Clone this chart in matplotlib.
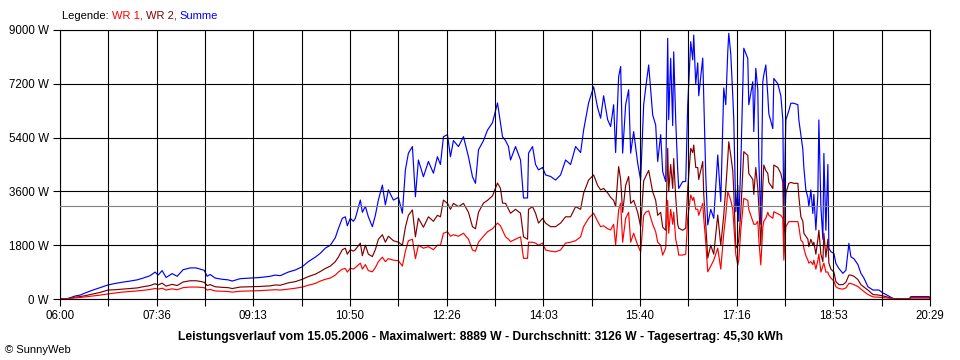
import matplotlib
matplotlib.use("Agg")
import matplotlib.pyplot as plt
import numpy as np

plt.rcParams['font.family'] = ['Liberation Sans', 'DejaVu Sans']

# Zeit in Minuten ab 06:00
minuten = [0, 6, 10, 15, 20, 25, 33, 40, 48, 55, 62, 70, 77, 83, 90, 95, 98, 102, 106, 112,
           117, 123, 130, 136, 140, 144, 147, 150, 155, 162, 168, 172, 180, 190, 200, 210, 215, 220, 228, 235,
           242, 248, 255, 260, 265, 270, 275, 278, 282, 285, 287, 290, 293, 295, 300, 302, 305, 308, 312, 315,
           318, 322, 325, 328, 333, 338, 342, 345, 348, 352, 355, 358, 363, 368, 373, 377, 380, 383, 387, 390,
           393, 398, 403, 408, 412, 415, 418, 423, 427, 432, 437, 440, 442, 445, 448, 450, 455, 460, 463, 467,
           468, 472, 475, 478, 482, 485, 490, 495, 500, 505, 510, 515, 520, 523, 528, 533, 537, 540, 543, 547,
           550, 553, 555, 558, 560, 562, 565, 568, 570, 573, 577, 580, 583, 585, 588, 592, 595, 597, 600, 602,
           605, 607, 608, 610, 612, 613, 615, 617, 618, 622, 625, 627, 630, 632, 633, 635, 637, 638, 642, 643,
           645, 647, 650, 653, 657, 660, 663, 665, 667, 668, 670, 672, 673, 675, 677, 678, 680, 683, 687, 688,
           692, 693, 695, 697, 698, 700, 702, 703, 705, 707, 708, 712, 713, 717, 720, 722, 723, 725, 728, 730,
           733, 737, 738, 740, 742, 743, 745, 747, 748, 750, 752, 753, 755, 757, 758, 760, 762, 763, 765, 767,
           768, 770, 773, 775, 778, 782, 785, 788, 790, 793, 797, 800, 803, 807, 812, 818, 822, 825, 832, 838,
           848, 850, 868, 870]

summe = [0, 0, 40, 100, 130, 200, 300, 380, 470, 520, 560, 600, 640, 700, 780, 900, 800, 950, 720, 850,
         760, 980, 1040, 1040, 1000, 960, 760, 820, 700, 660, 640, 600, 680, 700, 720, 760, 800, 780, 900, 970,
         1080, 1250, 1400, 1530, 1700, 1800, 2050, 2350, 2700, 2750, 2450, 2700, 2600, 2700, 3310, 2900, 3100, 2750, 2420, 2800,
         3310, 3810, 3150, 3650, 3310, 3400, 2870, 4320, 4880, 5100, 3420, 4650, 4090, 4600, 4210, 4760, 4500, 5430, 5500, 4760,
         5300, 5100, 5430, 4760, 4090, 3870, 4990, 5300, 5650, 5900, 6560, 5880, 5430, 5300, 5100, 4650, 5100, 4650, 3380, 3380,
         4880, 5100, 4500, 4320, 4400, 4150, 4100, 3980, 4150, 4650, 4500, 5100, 4900, 5650, 6560, 7100, 6400, 6050, 6800, 6000,
         5770, 6500, 4900, 7440, 7780, 4880, 6500, 7000, 4880, 5600, 4550, 3980, 6500, 7060, 7830, 6160, 5820, 4600, 5500, 4260,
         3930, 8720, 6000, 8050, 5800, 8270, 6000, 4300, 3700, 3930, 3930, 6490, 8610, 8000, 8830, 7200, 7900, 6800, 8060, 6800,
         4150, 2480, 3000, 2700, 4820, 3260, 7060, 6500, 8270, 8890, 8200, 6800, 6000, 2920, 3800, 2600, 4500, 8390, 8050, 6500,
         7270, 5600, 7720, 7000, 4700, 2500, 7270, 7500, 7830, 6800, 6200, 5700, 7380, 7200, 6800, 6000, 2700, 5990, 6300, 6550,
         6550, 6500, 5990, 5500, 5000, 4400, 3650, 3400, 3090, 3650, 2860, 3500, 2310, 3500, 5990, 3100, 2000, 4870, 2300, 4500,
         1700, 1580, 1530, 1190, 1020, 860, 960, 1860, 1410, 1350, 1150, 860, 700, 410, 300, 300, 200, 150, 20, 0,
         0, 80, 80, 0]

wr2 = [0, 0, 20, 60, 80, 110, 170, 220, 300, 310, 330, 350, 370, 410, 450, 510, 470, 530, 430, 490,
       450, 570, 610, 610, 590, 560, 450, 480, 410, 390, 380, 350, 400, 410, 420, 440, 470, 460, 540, 580,
       660, 750, 830, 920, 1020, 1100, 1250, 1400, 1650, 1700, 1500, 1650, 1600, 1650, 1870, 1450, 1800, 1500, 1420, 1650,
       2000, 2150, 1900, 2100, 1950, 1900, 1800, 2400, 2800, 2980, 2080, 2700, 2400, 2750, 2600, 2800, 2750, 3310, 3200, 3000,
       3200, 3090, 3200, 2900, 2420, 2350, 2900, 3210, 3300, 3450, 3880, 3700, 3210, 3200, 3000, 2870, 3000, 2870, 2080, 2000,
       3000, 3090, 2870, 2540, 2700, 2540, 2420, 2420, 2540, 2750, 2750, 3090, 3000, 3540, 3980, 4150, 3800, 3650, 3700, 3550,
       3400, 3300, 3100, 4430, 4000, 2900, 3800, 4100, 3200, 3300, 2900, 2420, 3950, 4100, 4300, 3590, 3300, 2800, 2900, 2400,
       2300, 5040, 3600, 4500, 3700, 4700, 3400, 2500, 2370, 2300, 2370, 3700, 5040, 4900, 5150, 4400, 4400, 4000, 4600, 3500,
       2500, 1370, 1800, 1500, 2810, 1800, 2810, 3700, 4700, 5260, 4800, 4300, 3600, 1700, 1800, 2000, 2900, 4930, 4800, 4200,
       4000, 3500, 4400, 3700, 3100, 1800, 3800, 4480, 4300, 4200, 3900, 3700, 4480, 4400, 4200, 3900, 1800, 3540, 3870, 3900,
       3870, 3870, 3430, 2750, 2600, 2200, 2100, 2000, 1750, 2000, 1800, 1900, 1500, 2000, 2300, 1500, 1250, 2200, 1400, 2000,
       1200, 1000, 900, 580, 480, 480, 560, 800, 800, 760, 650, 480, 400, 300, 150, 130, 100, 80, 10, 0,
       0, 60, 60, 0]

wr1 = [0, 0, 20, 40, 50, 70, 100, 130, 170, 200, 230, 250, 270, 290, 320, 350, 330, 360, 300, 340,
       310, 380, 400, 400, 390, 380, 300, 320, 270, 260, 250, 230, 260, 270, 280, 300, 310, 300, 330, 360,
       400, 460, 520, 600, 660, 700, 800, 900, 1000, 1020, 900, 1030, 1000, 1050, 1200, 1000, 1150, 950, 910, 1050,
       1250, 1400, 1250, 1350, 1300, 1280, 1100, 1600, 1950, 2000, 1350, 1800, 1700, 1750, 1650, 1800, 1800, 2200, 2250, 2100,
       2150, 2100, 2200, 2000, 1640, 1600, 1900, 2100, 2250, 2350, 2540, 2450, 2300, 2080, 2000, 1920, 2000, 2080, 1360, 1360,
       1900, 1900, 1870, 1800, 1870, 1640, 1600, 1580, 1640, 1870, 1900, 1950, 2080, 2420, 2700, 2870, 2600, 2420, 2450, 2350,
       2310, 2500, 1800, 2980, 3210, 1900, 2700, 2900, 1900, 2200, 1800, 1580, 2800, 2900, 2950, 2500, 2250, 1900, 1800, 1470,
       1700, 3300, 2200, 3000, 2500, 2900, 2000, 1700, 1470, 1470, 1500, 2700, 3480, 3300, 3400, 3000, 3000, 2800, 3200, 2700,
       1900, 910, 1100, 1300, 1700, 1000, 2200, 2800, 3590, 3500, 3300, 3000, 2500, 1500, 1140, 1300, 2300, 3370, 3300, 3000,
       2600, 2500, 2500, 2600, 2000, 1140, 2400, 2600, 2700, 2900, 2800, 2700, 2920, 2850, 2800, 2700, 1300, 2420, 2590, 2590,
       2590, 2590, 2420, 1970, 1900, 1700, 1450, 1300, 1200, 1250, 1150, 1300, 1000, 1300, 1500, 900, 1100, 1200, 900, 900,
       800, 700, 600, 410, 350, 330, 370, 520, 520, 480, 420, 330, 250, 150, 70, 60, 50, 40, 10, 0,
       0, 30, 30, 0]

x_beschriftung = ['06:00', '07:36', '09:13', '10:50', '12:26', '14:03', '15:40', '17:16', '18:53', '20:29']
y_werte = [0, 1800, 3600, 5400, 7200, 9000]
durchschnitt = 3126
titel = 'Leistungsverlauf vom 15.05.2006 - Maximalwert: 8889 W - Durchschnitt: 3126 W - Tagesertrag: 45,30 kWh'

fig = plt.figure(figsize=(9.6, 3.6), dpi=100)
ax = fig.add_axes([60 / 960, 61 / 360, 870 / 960, 269 / 360])

ax.plot(minuten, summe, color='#0000FF', lw=0.85, zorder=2)
ax.plot(minuten, wr2, color='#800000', lw=0.85, zorder=2)
ax.plot(minuten, wr1, color='#FF0000', lw=0.85, zorder=2)

# Durchschnittslinie
ax.axhline(durchschnitt, color='#808080', lw=0.8, zorder=3)

ax.set_xlim(0, 869)
ax.set_ylim(0, 9000)

# 18 Gitterintervalle, jede zweite Linie beschriftet
xt = np.linspace(0, 869, 19)
xl = []
for i in range(19):
    xl.append(x_beschriftung[i // 2] if i % 2 == 0 else '')
ax.set_xticks(xt)
ax.set_xticklabels(xl)
ax.set_yticks(y_werte)
ax.set_yticklabels([f'{v} W' for v in y_werte])

ax.set_axisbelow(False)
ax.grid(True, color='black', lw=0.8)
ax.tick_params(direction='out', length=5, width=0.8, colors='black', labelsize=8.3, pad=3)
for s in ax.spines.values():
    s.set_linewidth(0.8)
    s.set_color('black')

# Legende als farbiger Text
t0 = fig.text(62 / 960, 1 - 16 / 360, 'Legende: ', fontsize=8, color='black', va='center')
t1 = ax.annotate('WR 1, ', xy=(1, 0), xycoords=t0, fontsize=8, color='#FF0000', va='bottom')
t2 = ax.annotate('WR 2, ', xy=(1, 0), xycoords=t1, fontsize=8, color='#800000', va='bottom')
ax.annotate('Summe', xy=(1, 0), xycoords=t2, fontsize=8, color='#0000FF', va='bottom')

fig.text(480 / 960, 1 - 337 / 360, titel, fontsize=8.7, fontweight='bold', ha='center', va='center')
fig.text(5 / 960, 1 - 350 / 360, '© SunnyWeb', fontsize=8, va='center')

fig.savefig('out.png', dpi=100, facecolor='white')
